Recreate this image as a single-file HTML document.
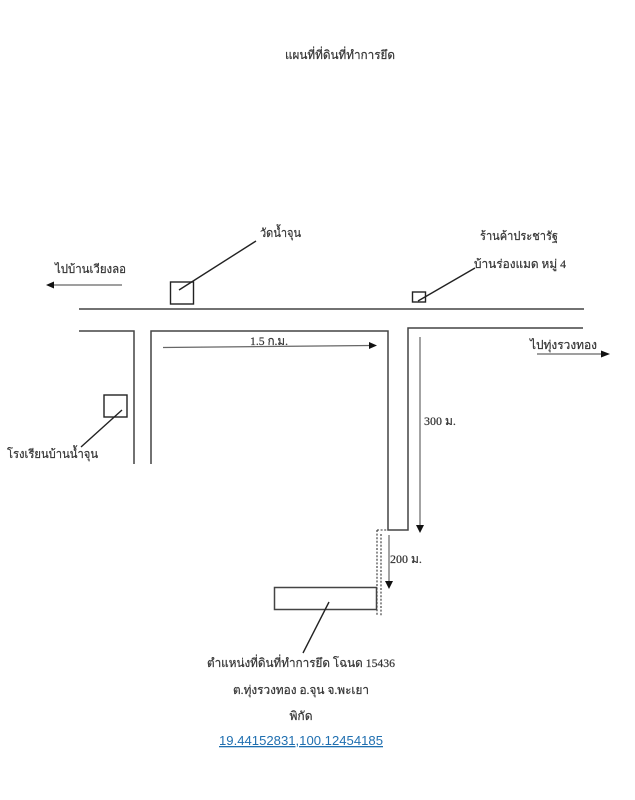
<!DOCTYPE html>
<html lang="th">
<head>
<meta charset="utf-8">
<title>แผนที่ที่ดินที่ทำการยึด</title>
<style>
html,body{margin:0;padding:0;background:#fff;}
body{width:635px;height:800px;overflow:hidden;}
svg{display:block;filter:blur(.3px);}
text{font-family:"Liberation Serif","Noto Serif CJK SC","Noto Sans CJK SC",serif;font-size:12px;fill:#333;stroke:#333;stroke-width:.2;}
.l{stroke:#444;stroke-width:1.5;fill:none;}
.g{stroke:#666;stroke-width:1.2;fill:none;}
.b{stroke:#222;stroke-width:1.4;fill:none;}
</style>
</head>
<body>
<svg width="635" height="800" viewBox="0 0 635 800" xmlns="http://www.w3.org/2000/svg">
<rect width="635" height="800" fill="#fff"/>

<!-- roads -->
<path class="l" d="M79 309H584"/>
<path class="l" d="M79 331H134V464"/>
<path class="l" d="M151 464V331H388V530H408V328H583"/>

<!-- dotted road -->
<path d="M377 530V616M381 534V616M377 530H388" stroke="#333" stroke-width="1.1" stroke-dasharray="2 1.6" fill="none"/>

<!-- boxes -->
<rect class="b" x="170.500" y="282" width="23" height="22"/>
<rect class="b" x="104" y="395" width="23" height="22"/>
<rect class="b" x="412.500" y="292" width="13" height="10"/>
<rect class="l" x="274.500" y="587.500" width="102" height="22"/>

<!-- leader lines -->
<path class="b" d="M179 290L256 241"/>
<path class="b" d="M122 410L81 447"/>
<path class="b" d="M418 301L475 268"/>
<path class="b" d="M329 602L303 653"/>

<!-- arrows -->
<path class="g" d="M122 285H52"/>
<path d="M46 285L54 281.500V288.500Z" fill="#111"/>
<path class="g" d="M537 354H602"/>
<path d="M610 354L601 350.500V357.500Z" fill="#111"/>
<path class="g" d="M163 347.500L371 345.500"/>
<path d="M377 345.500L369 342V349Z" fill="#111"/>
<path class="g" d="M420 337V526"/>
<path d="M420 533L416 525H424Z" fill="#111"/>
<path class="g" d="M389 535V582"/>
<path d="M389 589L385 581H393Z" fill="#111"/>

<!-- labels -->
<text x="285" y="59" textLength="110" lengthAdjust="spacingAndGlyphs">แผนที่ที่ดินที่ทำการยึด</text>
<text x="260" y="237" textLength="41" lengthAdjust="spacingAndGlyphs">วัดน้ำจุน</text>
<text x="55" y="273" textLength="71" lengthAdjust="spacingAndGlyphs">ไปบ้านเวียงลอ</text>
<text x="480" y="240" textLength="78" lengthAdjust="spacingAndGlyphs">ร้านค้าประชารัฐ</text>
<text x="474" y="268" textLength="92" lengthAdjust="spacingAndGlyphs">บ้านร่องแมด หมู่ 4</text>
<text x="530" y="349" textLength="67" lengthAdjust="spacingAndGlyphs">ไปทุ่งรวงทอง</text>
<text x="250" y="345" textLength="38" lengthAdjust="spacingAndGlyphs">1.5 ก.ม.</text>
<text x="424" y="425">300 ม.</text>
<text x="390" y="563">200 ม.</text>
<text x="7" y="458" textLength="91" lengthAdjust="spacingAndGlyphs">โรงเรียนบ้านน้ำจุน</text>
<text x="207" y="667" textLength="188" lengthAdjust="spacingAndGlyphs">ตำแหน่งที่ดินที่ทำการยึด โฉนด 15436</text>
<text x="233" y="694" textLength="136" lengthAdjust="spacingAndGlyphs">ต.ทุ่งรวงทอง อ.จุน จ.พะเยา</text>
<text x="301" y="720" text-anchor="middle">พิกัด</text>
<text x="219" y="745" textLength="164" lengthAdjust="spacingAndGlyphs" text-decoration="underline" style="font-family:'Liberation Sans',sans-serif;font-size:13px;fill:#1f6fb0;stroke:none">19.44152831,100.12454185</text>
</svg>
</body>
</html>
